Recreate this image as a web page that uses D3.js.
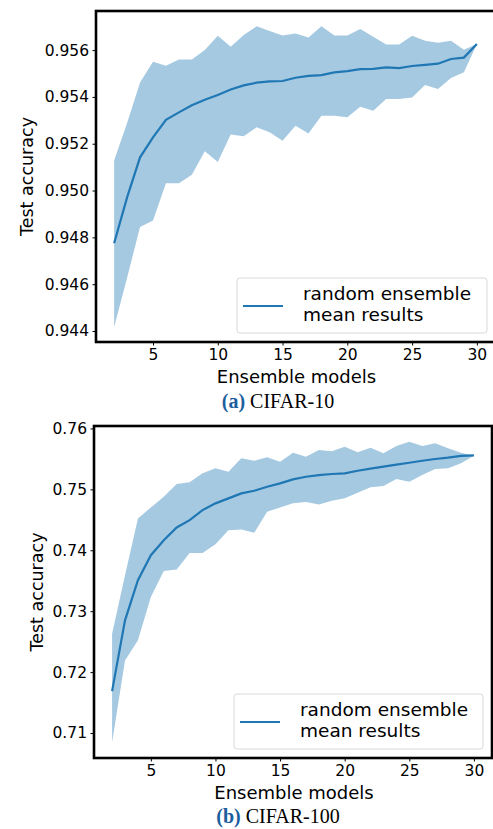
<!DOCTYPE html>
<html>
<head>
<meta charset="utf-8">
<script src="https://cdn.jsdelivr.net/npm/d3@7"></script>
<style>
  body { margin: 0; background: #fff; }
  svg { display: block; }
  text { font-family: "DejaVu Sans", sans-serif; fill: #000; }
</style>
</head>
<body>
<div id="chart"></div>
<script>
// ensemble size on x
var models = d3.range(2, 31);

// CIFAR-10
var c10_mean = [0.94775, 0.94971, 0.95142, 0.95227, 0.95302, 0.95334, 0.95364, 0.95388, 0.95408, 0.95432,
    0.95449, 0.95461, 0.95466, 0.95468, 0.95482, 0.95490, 0.95493, 0.95505, 0.95510, 0.95519,
    0.95520, 0.95526, 0.95523, 0.95532, 0.95537, 0.95542, 0.95562, 0.95568, 0.95626];
var c10_upper = [0.95128, 0.95289, 0.95462, 0.95550, 0.95533, 0.95560, 0.95560, 0.95600, 0.95661, 0.95614,
    0.95664, 0.95702, 0.95682, 0.95662, 0.95671, 0.95654, 0.95702, 0.95662, 0.95662, 0.95690,
    0.95657, 0.95624, 0.95624, 0.95661, 0.95640, 0.95631, 0.95640, 0.95601, 0.95626];
var c10_lower = [0.94417, 0.94628, 0.94844, 0.94872, 0.95031, 0.95031, 0.95068, 0.95168, 0.95122, 0.95239,
    0.95232, 0.95270, 0.95249, 0.95213, 0.95277, 0.95244, 0.95320, 0.95320, 0.95313, 0.95358,
    0.95341, 0.95391, 0.95391, 0.95398, 0.95451, 0.95434, 0.95481, 0.95505, 0.95626];
var c10_yticks = [0.944, 0.946, 0.948, 0.950, 0.952, 0.954, 0.956];

// CIFAR-100
var c100_mean = [0.71687, 0.72850, 0.73508, 0.73919, 0.74166, 0.74374, 0.74495, 0.74659, 0.74770, 0.74852,
    0.74934, 0.74977, 0.75043, 0.75099, 0.75164, 0.75207, 0.75235, 0.75252, 0.75263, 0.75306,
    0.75339, 0.75372, 0.75405, 0.75437, 0.75470, 0.75498, 0.75520, 0.75548, 0.75559];
var c100_upper = [0.72631, 0.73590, 0.74523, 0.74703, 0.74878, 0.75087, 0.75115, 0.75263, 0.75345, 0.75289,
    0.75510, 0.75470, 0.75526, 0.75454, 0.75602, 0.75536, 0.75646, 0.75625, 0.75701, 0.75608,
    0.75684, 0.75592, 0.75712, 0.75783, 0.75712, 0.75756, 0.75674, 0.75602, 0.75553];
var c100_lower = [0.70848, 0.72192, 0.72521, 0.73233, 0.73661, 0.73684, 0.73957, 0.73957, 0.74100, 0.74330,
    0.74342, 0.74286, 0.74631, 0.74704, 0.74770, 0.74791, 0.74753, 0.74812, 0.74852, 0.74944,
    0.75033, 0.75054, 0.75169, 0.75125, 0.75235, 0.75334, 0.75345, 0.75428, 0.75553];
var c100_yticks = [0.71, 0.72, 0.73, 0.74, 0.75, 0.76];

var xticks = [5, 10, 15, 20, 25, 30];
var legend_lines = ["random ensemble", "mean results"];

var W = 493, H = 829;
var blue = "#1f77b4";

var svg = d3.select("#chart").append("svg")
    .attr("width", W)
    .attr("height", H);

svg.append("rect").attr("width", W).attr("height", H).attr("fill", "#fff");

var panels = [
    { mean: c10_mean, upper: c10_upper, lower: c10_lower, yticks: c10_yticks, fmt: d3.format(".3f"),
      left: 96, right: 495, top: 11, bottom: 342, ydom: [0.94353, 0.95767], ylabX: 27,
      leg: { x: 237, y: 278, w: 250, h: 55 }, tag: "(a)", caption: "CIFAR-10", capY: 408 },
    { mean: c100_mean, upper: c100_upper, lower: c100_lower, yticks: c100_yticks, fmt: d3.format(".2f"),
      left: 94, right: 492, top: 426, bottom: 758, ydom: [0.7059, 0.7604], ylabX: 37,
      leg: { x: 234, y: 694, w: 249, h: 55 }, tag: "(b)", caption: "CIFAR-100", capY: 823 }
];

panels.forEach(function (p, i) {
    var x = d3.scaleLinear().domain([0.6, 31.4]).range([p.left, p.right]);
    var y = d3.scaleLinear().domain(p.ydom).range([p.bottom, p.top]);

    var g = svg.append("g").attr("class", "panel" + i);

    var clipId = "clip" + i;
    g.append("clipPath").attr("id", clipId)
        .append("rect")
        .attr("x", p.left).attr("y", p.top)
        .attr("width", p.right - p.left).attr("height", p.bottom - p.top);

    var rows = models.map(function (m, k) {
        return { n: m, mean: p.mean[k], hi: p.upper[k], lo: p.lower[k] };
    });

    var area = d3.area()
        .x(function (d) { return x(d.n); })
        .y0(function (d) { return y(d.lo); })
        .y1(function (d) { return y(d.hi); });

    var line = d3.line()
        .x(function (d) { return x(d.n); })
        .y(function (d) { return y(d.mean); });

    var plot = g.append("g").attr("clip-path", "url(#" + clipId + ")");
    plot.append("path")
        .datum(rows)
        .attr("d", area)
        .attr("fill", blue)
        .attr("fill-opacity", 0.4);
    plot.append("path")
        .datum(rows)
        .attr("d", line)
        .attr("fill", "none")
        .attr("stroke", blue)
        .attr("stroke-width", 2.2);

    // axes
    var yAxis = d3.axisLeft(y).tickValues(p.yticks).tickFormat(p.fmt).tickSize(3.5).tickPadding(3.5);
    var gy = g.append("g").attr("transform", "translate(" + p.left + ",0)").call(yAxis);
    var xAxis = d3.axisBottom(x).tickValues(xticks).tickSize(3.5).tickPadding(3.5);
    var gx = g.append("g").attr("transform", "translate(0," + p.bottom + ")").call(xAxis);

    [gx, gy].forEach(function (ax) {
        ax.select(".domain").remove();
        ax.selectAll(".tick line").attr("stroke", "#000").attr("stroke-width", 1);
        ax.selectAll(".tick text")
            .style("font-family", "DejaVu Sans")
            .style("font-size", "15.5px")
            .attr("fill", "#000");
    });

    // frame
    g.append("rect")
        .attr("x", p.left).attr("y", p.top)
        .attr("width", p.right - p.left).attr("height", p.bottom - p.top)
        .attr("fill", "none")
        .attr("stroke", "#000")
        .attr("stroke-width", 2.6);

    // axis labels
    g.append("text")
        .attr("transform", "translate(" + p.ylabX + "," + ((p.top + p.bottom) / 2) + ") rotate(-90)")
        .attr("text-anchor", "middle")
        .attr("dominant-baseline", "central")
        .style("font-size", "17.5px")
        .text("Test accuracy");

    g.append("text")
        .attr("x", (x(2) + x(30)) / 2 + 1)
        .attr("y", p.bottom + 41)
        .attr("text-anchor", "middle")
        .style("font-size", "18px")
        .text("Ensemble models");

    // legend
    var L = p.leg;
    g.append("rect")
        .attr("x", L.x).attr("y", L.y)
        .attr("width", L.w).attr("height", L.h)
        .attr("rx", 3)
        .attr("fill", "#fff").attr("fill-opacity", 0.8)
        .attr("stroke", "#d9d9d9").attr("stroke-width", 1);
    g.append("line")
        .attr("x1", L.x + 6).attr("x2", L.x + 46)
        .attr("y1", L.y + 28).attr("y2", L.y + 28)
        .attr("stroke", blue).attr("stroke-width", 2.2);
    g.selectAll(".legtxt")
        .data(legend_lines)
        .enter()
        .append("text")
        .attr("class", "legtxt")
        .attr("x", L.x + 66)
        .attr("y", function (d, k) { return L.y + 22 + k * 21; })
        .style("font-size", "18.5px")
        .text(function (d) { return d; });

    // caption
    var cap = g.append("text")
        .attr("x", 278)
        .attr("y", p.capY)
        .attr("text-anchor", "middle")
        .style("font-family", "Liberation Serif, serif")
        .style("font-size", "20px");
    cap.append("tspan")
        .attr("font-weight", "bold")
        .attr("fill", "#1b5e9e")
        .text(p.tag);
    cap.append("tspan")
        .text(" " + p.caption);
});
</script>
</body>
</html>
